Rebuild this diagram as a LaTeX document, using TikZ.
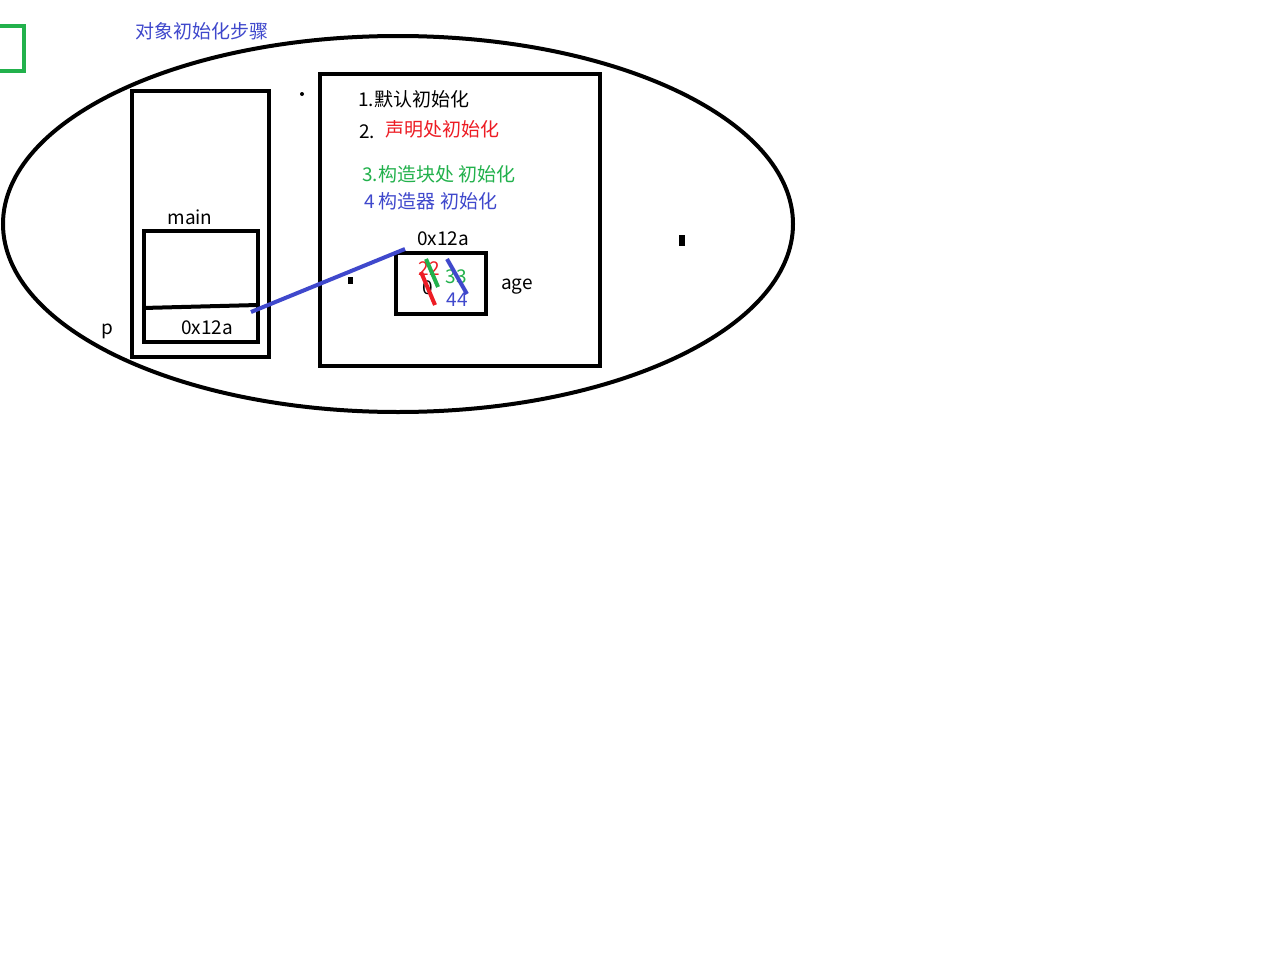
\documentclass[tikz,border=0pt]{standalone}
\usepackage{fontspec}
\setmainfont{Noto Sans CJK SC}
\newfontfamily\cjk{Noto Sans CJK SC}
\definecolor{pblue}{RGB}{63,72,204}
\definecolor{pgreen}{RGB}{34,177,76}
\definecolor{pred}{RGB}{237,28,36}
\tikzset{
  bx/.style={draw=black,line width=4pt},
  lbl/.style={inner sep=0pt,font=\fontsize{19}{21}\selectfont},
  cn/.style={inner sep=0pt,font=\fontsize{19}{21}\selectfont},
  stroke/.style={line width=4pt}
}
\begin{document}
\begin{tikzpicture}[x=1pt,y=-1pt]
\useasboundingbox (0,0) rectangle (1261,953);
\fill[white] (0,0) rectangle (1261,953);
% green bracket
\draw[pgreen,line width=4pt] (0,26) -- (24,26) -- (24,71) -- (0,71);
% title
\node[cn,text=pblue,anchor=west] (title) at (135,31) {对象初始化步骤};
% ellipse
\draw[line width=4pt] (398,224) ellipse [x radius=395, y radius=188];
% stack box
\node[bx,minimum width=137pt,minimum height=266pt,inner sep=0pt] (stack) at (200.5,224) {};
\node[lbl,anchor=base] (main) at (190,224) {main};
\node[bx,minimum width=114pt,minimum height=111pt,inner sep=0pt] (frame) at (201,286.5) {};
\coordinate (sl) at (143,308);
\coordinate (sr) at (258,305);
\draw[line width=4pt] (sl) -- (sr);
\node[lbl,anchor=base] (addr1) at (207,334) {0x12a};
\node[lbl,anchor=base] (p) at (107,334) {p};
% heap box
\node[bx,minimum width=280pt,minimum height=292pt,inner sep=0pt] (heap) at (460,220) {};
\fill (302,94) circle (2pt);
\node[cn,anchor=base west] (s1) at (358,106) {1.默认初始化};
\node[cn,anchor=base west] (s2n) at (359,138) {2.};
\node[cn,anchor=base west,text=pred] (s2) at (385,136) {声明处初始化};
\node[cn,anchor=base west,text=pgreen] (s3) at (362,181) {3.构造块处 初始化};
\node[cn,anchor=base west,text=pblue] (s4) at (364,208) {4 构造器 初始化};
\node[lbl,anchor=base] (addr2) at (443,245) {0x12a};
\node[bx,minimum width=90pt,minimum height=61pt,inner sep=0pt] (obj) at (441,283.5) {};
\node[lbl,anchor=base] (age) at (517,289) {age};
\fill (348,277) rectangle (353,284);
\fill (679,235) rectangle (685,246);
% pointer
\coordinate (pa) at (251,312);
\coordinate (pb) at (405,249);
\draw[pblue,line width=4pt] (pa) -- (pb);
% values
\node[lbl,anchor=base,text=pred] (v22) at (429,275) {22};
\node[lbl,anchor=base] (v0) at (428,294) {0};
\node[lbl,anchor=base,text=pgreen] (v33) at (456,283) {33};
\node[lbl,anchor=base,text=pblue] (v44) at (457,306) {44};
\draw[pred,stroke] (421,272) -- (435,305);
\draw[pgreen,stroke] (426,259) -- (438,287);
\draw[pblue,stroke] (447,259) -- (467,294);
\end{tikzpicture}
\end{document}
